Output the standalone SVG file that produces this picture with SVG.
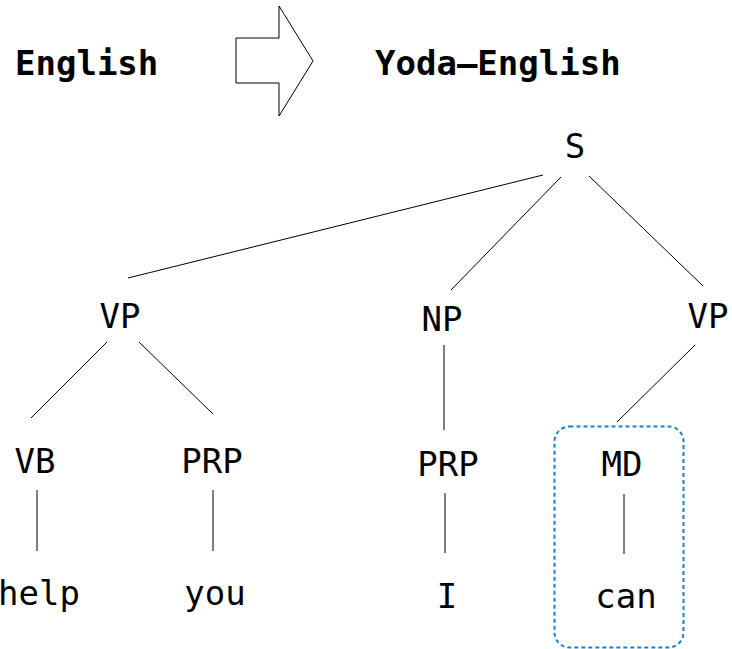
<svg xmlns="http://www.w3.org/2000/svg" width="732" height="649" viewBox="0 0 732 649">
<style>
text{font-family:"DejaVu Sans Mono","Liberation Mono",monospace;font-size:34px;fill:#000;text-anchor:middle}
.title{font-weight:bold;text-anchor:start}
.edge{stroke:#000;stroke-width:1;fill:none}
</style>
<rect width="732" height="649" fill="#fff"/>
<g id="title-english"><text class="title" x="15" y="75">English</text></g>
<g id="arrow"><polygon points="236,38 279,38 279,6 313,61 279,116 279,83 236,83" fill="#fff" stroke="#000" stroke-width="1"/></g>
<g id="title-yoda"><text class="title" x="375" y="75">Yoda–English</text></g>
<g id="connectors">
<line class="edge" x1="543" y1="175" x2="128" y2="278"/>
<line class="edge" x1="561" y1="177" x2="451" y2="290"/>
<line class="edge" x1="589" y1="176" x2="703" y2="286"/>
<line class="edge" x1="107" y1="342" x2="31" y2="418"/>
<line class="edge" x1="139" y1="342" x2="213" y2="414"/>
<line class="edge" x1="444" y1="345" x2="444" y2="430"/>
<line class="edge" x1="695" y1="345" x2="617" y2="422"/>
<line class="edge" x1="37" y1="490" x2="37" y2="551"/>
<line class="edge" x1="213" y1="490" x2="213" y2="551"/>
<line class="edge" x1="445" y1="493" x2="445" y2="553"/>
<line class="edge" x1="624" y1="494" x2="624" y2="554"/>
</g>
<g id="node-S"><text x="575" y="158">S</text></g>
<g id="node-VP1"><text x="120" y="328">VP</text></g>
<g id="node-NP"><text x="442" y="331">NP</text></g>
<g id="node-VP2"><text x="708" y="328">VP</text></g>
<g id="node-VB"><text x="35" y="473">VB</text></g>
<g id="node-PRP1"><text x="212" y="473">PRP</text></g>
<g id="node-PRP2"><text x="448" y="476">PRP</text></g>
<g id="node-MD"><rect x="554.5" y="426.5" width="129" height="221" rx="15" ry="15" fill="none" stroke="#1a7fd4" stroke-width="2" stroke-dasharray="4,3"/><text x="622" y="476">MD</text></g>
<g id="leaf-help"><text x="39" y="605">help</text></g>
<g id="leaf-you"><text x="215" y="605">you</text></g>
<g id="leaf-I"><text x="447" y="608">I</text></g>
<g id="leaf-can"><text x="626" y="608">can</text></g>
</svg>
